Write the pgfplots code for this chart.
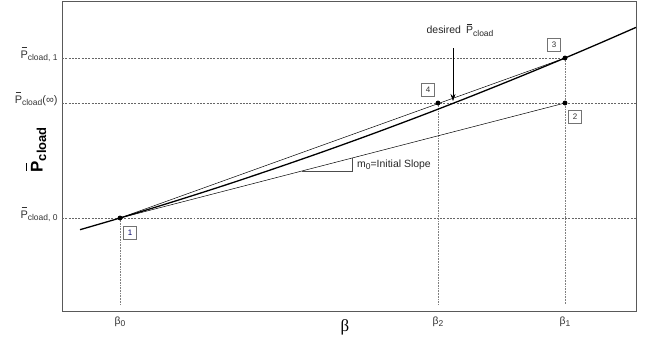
\documentclass[border=0pt]{standalone}
\usepackage{pgfplots}
\pgfplotsset{compat=1.18}
\usetikzlibrary{arrows.meta}
\usepackage{fontspec}
\setmainfont{Liberation Sans}
\newfontfamily\seriff{Liberation Serif}
\newcommand{\Pbar}{\leavevmode\setbox0\hbox{P}\rlap{\hbox to\wd0{\hss\raisebox{\dimexpr\ht0+0.22em\relax}{\rule{0.72\wd0}{0.06em}}\hss}}P}
\newcommand{\sub}[1]{\raisebox{-0.45ex}{\fontsize{8.5}{9}\selectfont #1}}
\begin{document}
\begin{tikzpicture}
\begin{axis}[
  scale only axis, width=574bp, height=310bp,
  xmin=62, xmax=636, ymin=30, ymax=340,
  axis line style={draw=black!65, line width=0.7pt},
  tick style={draw=none},
  clip=false,
  font=\fontsize{10.5}{12}\selectfont,
  xtick={120,438,565},
  xticklabels={β\sub{0}, β\sub{2}, β\sub{1}},
  xticklabel style={yshift=-2bp, text=black!80},
  ytick={123,238,283},
  yticklabels={\Pbar\sub{cload, 0}, \Pbar\sub{cload}(∞), \Pbar\sub{cload, 1}},
  yticklabel style={anchor=base east, xshift=-1bp, text=black!80, font=\fontsize{11}{12}\selectfont},
  xlabel={\seriff\fontsize{17}{20}\selectfont β},
  xlabel style={at={(axis description cs:0.493,-0.052)}, anchor=center},
  ylabel={\fontsize{17}{20}\selectfont\bfseries \Pbar\raisebox{-0.4ex}{\fontsize{13}{14}\selectfont cload}},
  ylabel style={at={(axis description cs:-0.045,0.52)}, anchor=center},
]
% reference lines
\addplot[black!60, dash pattern=on 2pt off 1.3pt, line width=0.5pt] coordinates {(62,283) (565,283)};
\addplot[black!60, dash pattern=on 2pt off 1.3pt, line width=0.5pt] coordinates {(62,238) (636,238)};
\addplot[black!60, dash pattern=on 2pt off 1.3pt, line width=0.5pt] coordinates {(62,123) (636,123)};
\addplot[black!50, dash pattern=on 0.8pt off 0.8pt, line width=0.6pt] coordinates {(120,123) (120,36)};
\addplot[black!50, dash pattern=on 0.8pt off 0.8pt, line width=0.6pt] coordinates {(438,238) (438,36)};
\addplot[black!50, dash pattern=on 0.8pt off 0.8pt, line width=0.6pt] coordinates {(565,283) (565,36)};
% secant 1-3 and initial slope 1-2
\addplot[black, line width=0.5pt] coordinates {(120,123) (565,283)};
\addplot[black, line width=0.5pt] coordinates {(120,123) (565,238)};
% slope triangle
\addplot[black!70, line width=0.5pt] coordinates {(302,170) (352,170) (352,183)};
% thick curve
\addplot[black, line width=1.3pt, smooth] coordinates {
(80,111.3) (120,123) (170,138.3) (220,154.2) (270,170.9) (320,188.2) (370,206.2)
(420,224.9) (470,244.3) (520,264.4) (565,283) (600,297.9) (636,313.6)};
% points
\addplot[only marks, mark=*, mark size=2.2pt, black] coordinates {(120,123) (565,238) (565,283) (438,238)};
% arrow
\addplot[black, line width=0.5pt, -{Stealth[length=7pt,width=5pt]}] coordinates {(453,293) (453,240)};
% labels
\node[draw=black!55, fill=white, inner sep=2pt, font=\fontsize{8}{9}\selectfont, text=blue!40!black, minimum width=13bp, minimum height=13bp] at (axis cs:130,108) {1};
\node[draw=black!55, fill=white, inner sep=2pt, font=\fontsize{8}{9}\selectfont, text=black!80, minimum width=13bp, minimum height=13bp] at (axis cs:575,224) {2};
\node[draw=black!55, fill=white, inner sep=2pt, font=\fontsize{8}{9}\selectfont, text=black!80, minimum width=13bp, minimum height=13bp] at (axis cs:554,296) {3};
\node[draw=black!55, fill=white, inner sep=2pt, font=\fontsize{8}{9}\selectfont, text=black!80, minimum width=13bp, minimum height=13bp] at (axis cs:428,251) {4};
\node[anchor=west, font=\fontsize{10.5}{12}\selectfont, text=black!85, inner sep=0pt] at (axis cs:357,176) {m\sub{0}=Initial Slope};
\node[anchor=center, font=\fontsize{10.5}{12}\selectfont, text=black!85] at (axis cs:460,311) {desired\enspace\Pbar\sub{cload}};
\end{axis}
\pgfresetboundingbox
\path[use as bounding box] ([shift={(-62bp,-30bp)}]current axis.south west) rectangle ([shift={(19bp,1bp)}]current axis.north east);
\end{tikzpicture}
\end{document}
